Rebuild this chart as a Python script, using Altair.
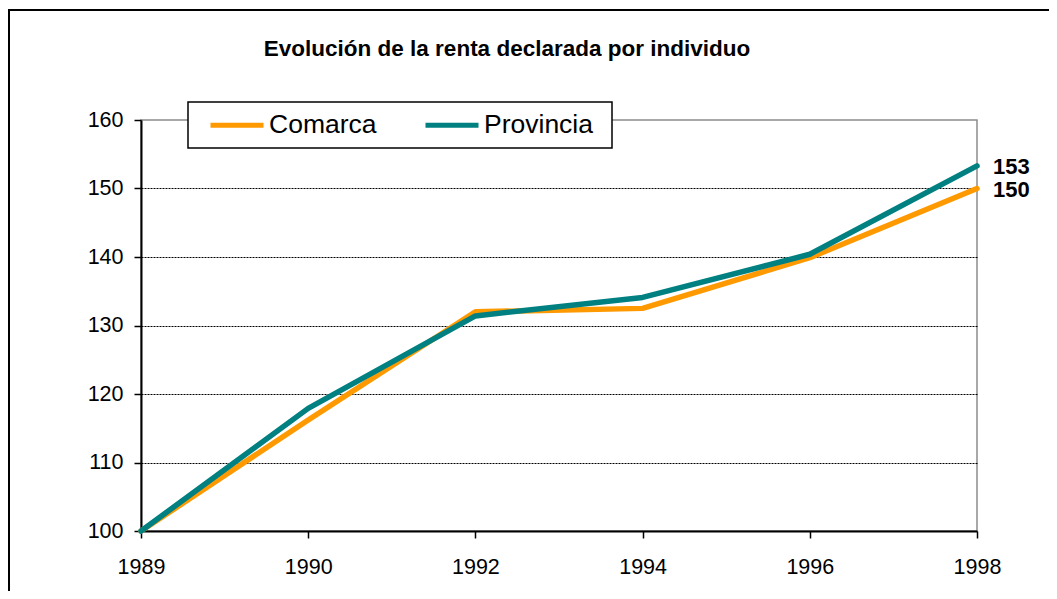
import altair as alt
import pandas as pd

years = ["1989", "1990", "1992", "1994", "1996", "1998"]
comarca = [100, 116.2, 132.0, 132.5, 139.9, 150.0]
provincia = [100, 117.9, 131.4, 134.1, 140.4, 153.3]
series_names = ["Comarca", "Provincia"]
series_colors = ["#FF9900", "#008080"]
title_text = "Evolución de la renta declarada por individuo"
y_ticks = [100, 110, 120, 130, 140, 150, 160]

rows = []
for name, vals in zip(series_names, [comarca, provincia]):
    for i, (yr, v) in enumerate(zip(years, vals)):
        rows.append({"year": yr, "value": v, "serie": name, "order": i})
df = pd.DataFrame(rows)
last = df[df["year"] == years[-1]]
title_df = pd.DataFrame({"t": [title_text]})

FONT = "Liberation Sans"

x_enc = alt.X("year:O", sort=years,
              scale=alt.Scale(padding=0),
              axis=alt.Axis(title=None, labelAngle=0, labelFontSize=21.5, labelFont=FONT,
                            labelColor="black", labelPadding=18, tickSize=7, tickColor="black",
                            tickWidth=1.5, domainColor="black", domainWidth=2, grid=False))
y_enc = alt.Y("value:Q",
              scale=alt.Scale(domain=[100, 160], nice=False, zero=False),
              axis=alt.Axis(title=None, values=y_ticks, labelFontSize=21.5, labelFont=FONT,
                            labelColor="black", labelPadding=11, tickSize=7, tickColor="black",
                            tickWidth=1.5, domainColor="black", domainWidth=2, grid=True,
                            gridColor="black", gridDash=[2, 1], gridWidth=1,
                            gridOpacity={"condition": {"test": "datum.value >= 160 || datum.value <= 100", "value": 0}, "value": 1}))

color_enc = alt.Color("serie:N", sort=series_names,
                      scale=alt.Scale(domain=series_names, range=series_colors),
                      legend=alt.Legend(title=None, orient="none", legendX=67, legendY=-24,
                                        direction="horizontal", symbolType="stroke",
                                        symbolSize=2809, symbolStrokeWidth=5,
                                        labelFontSize=26.5, labelFont=FONT, labelColor="black",
                                        labelOffset=3, columnPadding=38, padding=0))

outer = alt.Chart(title_df).mark_rect(fill="transparent", stroke="black", strokeWidth=2).encode(
    x=alt.value(-132), x2=alt.value(1000), y=alt.value(-110), y2=alt.value(600))

legend_box = alt.Chart(title_df).mark_rect(fill="white", stroke="black", strokeWidth=1.5).encode(
    x=alt.value(47), x2=alt.value(471), y=alt.value(-18), y2=alt.value(28))

title = alt.Chart(title_df).mark_text(font=FONT, fontSize=22.5, fontWeight="bold",
                                      color="black", align="center", baseline="middle").encode(
    x=alt.value(366), y=alt.value(-71), text="t:N")

lines = alt.Chart(df).mark_line(strokeWidth=5.5, strokeCap="round", strokeJoin="round").encode(
    x=x_enc, y=y_enc, color=color_enc, order="order:Q")

labels = alt.Chart(last).mark_text(font=FONT, fontSize=22, fontWeight="bold", color="black",
                                   align="left", baseline="middle", dx=16, dy=1).encode(
    x=alt.X("year:O", sort=years, scale=alt.Scale(padding=0)),
    y=alt.Y("value:Q", scale=alt.Scale(domain=[100, 160], nice=False, zero=False)),
    text=alt.Text("value:Q", format=".0f"))

chart = alt.layer(outer, lines, labels, legend_box, title).properties(
    width=836, height=411,
    autosize=alt.AutoSizeParams(type="none"),
    padding={"left": 133, "top": 112, "right": 72, "bottom": 60},
    background="white",
).configure_view(stroke="#8c8c8c", strokeWidth=1.5)

chart.save("out.html", embed_options={"renderer": "svg", "actions": False})
